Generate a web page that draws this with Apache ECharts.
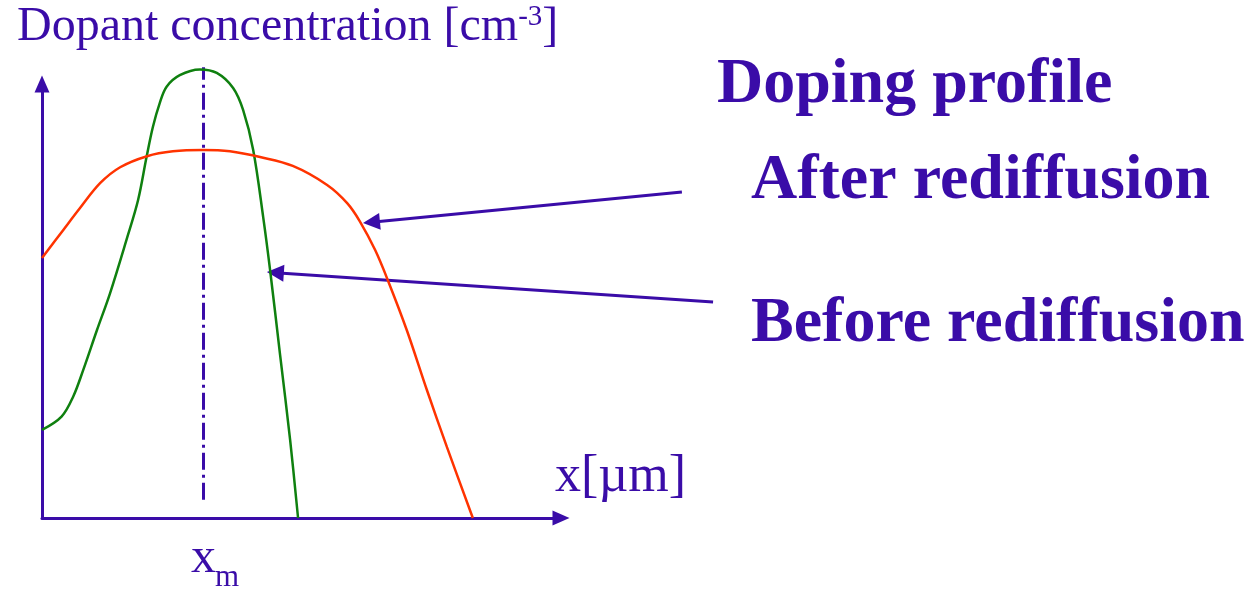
<!DOCTYPE html>
<html>
<head>
<meta charset="utf-8">
<script src="https://cdn.jsdelivr.net/npm/echarts@6/dist/echarts.min.js"></script>
<style>
  html, body { margin: 0; padding: 0; background: #fff; }
  #chart { width: 1249px; height: 590px; }
</style>
</head>
<body>
<div id="chart"></div>
<script>
// depth x (0-100 of axis length) and concentration (0-100)
const beforeX = [0, 3.7, 5.9, 7.8, 10.4, 12.9, 16.0, 18.2, 19.8, 21.0, 22.3, 23.6, 26.1, 29.9, 33.1, 36.2, 38.1, 40.0, 41.9, 43.2, 45.1, 47.0, 48.5]
const beforeY = [19.9, 22.9, 27.4, 33.4, 42.4, 50.8, 62.8, 71.8, 81.5, 88.3, 93.7, 97.4, 100.0, 101.3, 100.5, 97.1, 92.1, 83.1, 67.9, 56.0, 36.8, 17.6, 0]
const afterX = [0, 4.0, 7.2, 11.0, 14.8, 19.9, 24.8, 30.5, 35.6, 41.3, 47.5, 54.0, 57.8, 60.2, 63.1, 65.5, 69.1, 72.9, 76.7, 81.6]
const afterY = [58.7, 65.0, 70.0, 75.6, 79.2, 81.7, 82.8, 83.1, 82.8, 81.5, 79.5, 75.2, 71.1, 67.0, 60.5, 53.7, 42.4, 28.9, 16.0, 0]
// x_m marker line and the two annotation arrows: [from, to]
const xmLine = [[30.5, 4.1], [30.5, 101.8]]
const afterArrow = [[121.2, 73.6], [62.4, 66.8]]
const beforeArrow = [[127.1, 48.8], [44.2, 55.4]]

const ink = '#3a0ca8'
const font = '"Liberation Serif", "DejaVu Serif", serif'

const zip = (xs, ys) => xs.map((x, i) => [x, ys[i]])

const chart = echarts.init(document.getElementById('chart'))

const axisBase = {
  type: 'value',
  min: 0,
  axisLine: {
    show: true,
    symbol: ['none', 'triangle'],
    symbolSize: [15, 17],
    lineStyle: { color: ink, width: 3 }
  },
  axisTick: { show: false },
  axisLabel: { show: false },
  splitLine: { show: false }
}

const option = {
  animation: false,
  backgroundColor: '#fff',
  grid: { left: 42, right: 688, top: 84, bottom: 72 },
  xAxis: Object.assign({}, axisBase, { max: 98.3 }),
  yAxis: Object.assign({}, axisBase, { max: 98 }),
  series: [
    {
      name: 'Before rediffusion',
      type: 'line',
      data: zip(beforeX, beforeY),
      smooth: 0.35,
      showSymbol: false,
      clip: false,
      lineStyle: { color: '#0f800f', width: 2.5 }
    },
    {
      name: 'After rediffusion',
      type: 'line',
      data: zip(afterX, afterY),
      smooth: 0.35,
      showSymbol: false,
      clip: false,
      lineStyle: { color: '#ff3300', width: 2.5 }
    },
    {
      name: 'x_m',
      type: 'lines',
      coordinateSystem: 'cartesian2d',
      silent: true,
      clip: false,
      symbol: 'none',
      lineStyle: { color: ink, width: 3, type: [17, 5, 3, 5], opacity: 1 },
      data: [{ coords: xmLine }]
    },
    {
      name: 'arrows',
      type: 'lines',
      coordinateSystem: 'cartesian2d',
      silent: true,
      clip: false,
      symbol: ['none', 'triangle'],
      symbolSize: 17,
      lineStyle: { color: ink, width: 3, opacity: 1 },
      data: [{ coords: afterArrow }, { coords: beforeArrow }]
    }
  ],
  graphic: [
    {
      type: 'text', left: 17, top: 3,
      style: {
        text: '{a|Dopant concentration [cm}{s|-3}{a|]}',
        rich: {
          a: { fontFamily: font, fontSize: 48, fill: ink },
          s: { fontFamily: font, fontSize: 29, fill: ink, verticalAlign: 'top' }
        }
      }
    },
    {
      type: 'text', left: 717, top: 53,
      style: { text: 'Doping profile', fontFamily: font, fontSize: 64, fontWeight: 'bold', fill: ink }
    },
    {
      type: 'text', left: 751, top: 149,
      style: { text: 'After rediffusion', fontFamily: font, fontSize: 64, fontWeight: 'bold', fill: ink }
    },
    {
      type: 'text', left: 751, top: 292,
      style: { text: 'Before rediffusion', fontFamily: font, fontSize: 64, fontWeight: 'bold', fill: ink }
    },
    {
      type: 'text', left: 555, top: 451,
      style: { text: 'x[µm]', fontFamily: font, fontSize: 52, fill: ink }
    },
    {
      type: 'text', left: 191, top: 534,
      style: { text: 'x', fontFamily: font, fontSize: 50, fill: ink }
    },
    {
      type: 'text', left: 215, top: 562,
      style: { text: 'm', fontFamily: font, fontSize: 31, fill: ink }
    }
  ]
}

chart.setOption(option)
window.addEventListener('resize', () => chart.resize())
</script>
</body>
</html>
